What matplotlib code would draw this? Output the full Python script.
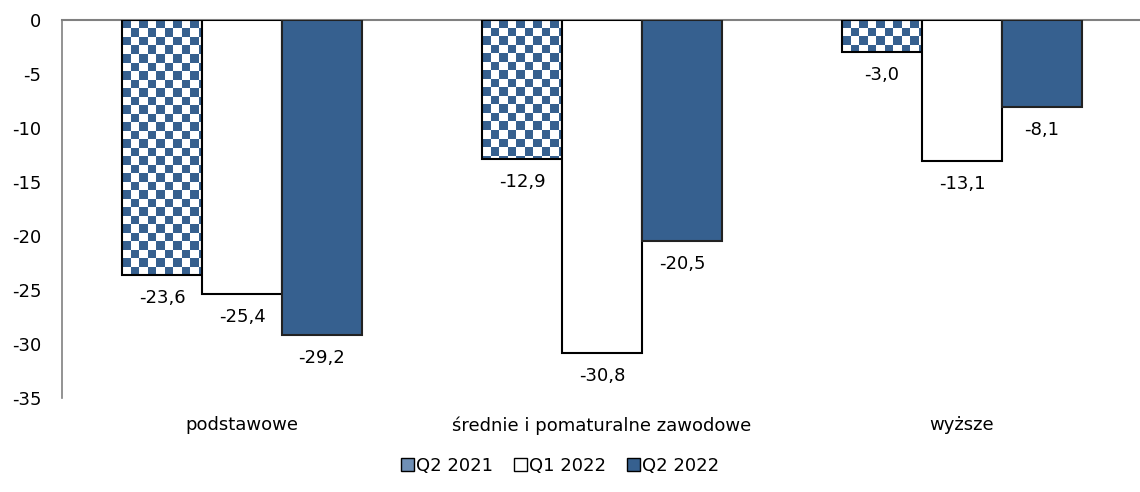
import matplotlib.pyplot as plt
import numpy as np
import matplotlib.patches as mpatches
from matplotlib.colors import ListedColormap

categories = ["podstawowe", "średnie i pomaturalne zawodowe", "wyższe"]
series_names = ["Q2 2021", "Q1 2022", "Q2 2022"]
q2_2021 = [-23.6, -12.9, -3.0]
q1_2022 = [-25.4, -30.8, -13.1]
q2_2022 = [-29.2, -20.5, -8.1]

blue = "#36608f"
plt.rcParams['font.family'] = ['DejaVu Sans']
plt.rcParams['axes.unicode_minus'] = False

fig = plt.figure(figsize=(11.4, 4.92), dpi=100)
ax = fig.add_axes([62 / 1140, 1 - 398 / 492, 1080 / 1140, 378 / 492])

x = np.arange(len(categories))
w = 0.222
offsets = [-w, 0, w]

# checkerboard texture for the first series, clipped to each bar
cell_x = 8.5 / 360
cell_y = 8.5 / 10.8
checker_cmap = ListedColormap([blue, "white"])

def checker_fill(rect):
    x0 = rect.get_x()
    top = 0
    nx = int(np.ceil(rect.get_width() / cell_x)) + 1
    ny = int(np.ceil(abs(rect.get_height()) / cell_y)) + 1
    yy, xx = np.mgrid[0:ny, 0:nx]
    board = (xx + yy) % 2
    img = ax.imshow(board, cmap=checker_cmap, interpolation="nearest", aspect="auto",
                    extent=[x0, x0 + nx * cell_x, top - ny * cell_y, top], zorder=2)
    img.set_clip_path(rect)

bars1 = ax.bar(x + offsets[0], q2_2021, w, facecolor="none", edgecolor="black", linewidth=1.5, zorder=3)
for r in bars1:
    checker_fill(r)
bars2 = ax.bar(x + offsets[1], q1_2022, w, color="white", edgecolor="black", linewidth=1.5, zorder=3)
bars3 = ax.bar(x + offsets[2], q2_2022, w, color=blue, edgecolor="#222222", linewidth=1.5, zorder=3)

for bars, vals in [(bars1, q2_2021), (bars2, q1_2022), (bars3, q2_2022)]:
    for r, v in zip(bars, vals):
        ax.annotate(f"{v:.1f}".replace(".", ","), (r.get_x() + r.get_width() / 2, v),
                    xytext=(0, -10), textcoords="offset points", ha="center", va="top",
                    fontsize=13)

ax.set_xlim(-0.5, 2.5)
ax.set_ylim(-35, 0)
ax.set_yticks(range(-35, 1, 5))
ax.tick_params(axis="y", length=0, labelsize=13, pad=15)
ax.set_xticks([])
for s in ["right", "bottom"]:
    ax.spines[s].set_visible(False)
ax.spines["left"].set_color("#808080")
ax.spines["top"].set_color("#808080")
ax.spines["left"].set_linewidth(1.2)
ax.spines["top"].set_linewidth(1.5)

for xi, name in zip(x, categories):
    ax.text(xi, -36.7, name, ha="center", va="top", fontsize=13, clip_on=False)

handles = [mpatches.Patch(facecolor="#6f8fb5", edgecolor="black", label=series_names[0]),
           mpatches.Patch(facecolor="white", edgecolor="black", label=series_names[1]),
           mpatches.Patch(facecolor=blue, edgecolor="black", label=series_names[2])]
fig.legend(handles=handles, loc="center", bbox_to_anchor=(560 / 1140, 1 - 466 / 492),
           ncol=3, frameon=False, fontsize=13, handlelength=0.7, handleheight=0.7,
           handletextpad=0.1, columnspacing=1.2)

fig.savefig("out.png", dpi=100)
